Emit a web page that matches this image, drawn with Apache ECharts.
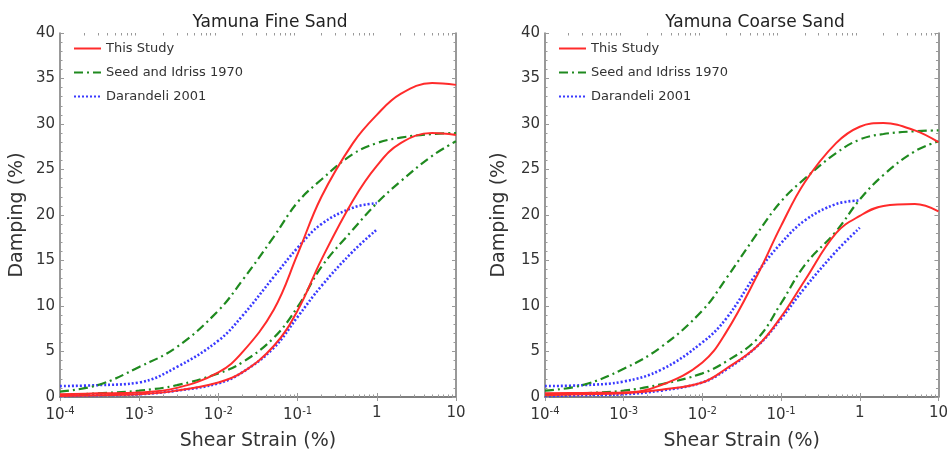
<!DOCTYPE html>
<html><head><meta charset="utf-8">
<script src="https://cdn.jsdelivr.net/npm/echarts@6/dist/echarts.min.js"></script>
<style>html,body{margin:0;padding:0;background:#fff}#c{width:951px;height:456px}</style>
</head><body><div id="c"></div>
<script>
// ---- data ----
var strain = [1e-4, 3e-4, 1e-3, 3e-3, 1e-2, 2e-2, 5e-2, 1e-1, 2e-1, 5e-1, 1, 2, 5, 10];
var strainDar = [1e-4, 3e-4, 1e-3, 3e-3, 1e-2, 2e-2, 5e-2, 1e-1, 2e-1, 5e-1, 1];
var xTickValues = [1e-4, 1e-3, 1e-2, 1e-1, 1, 10];
var yTickValues = [0, 5, 10, 15, 20, 25, 30, 35, 40];

var fineStudyUpper = [0.3, 0.4, 0.5, 1.0, 2.7, 4.9, 9.6, 15.7, 22.0, 27.9, 31.0, 33.3, 34.5, 34.3];
var fineStudyLower = [0.1, 0.2, 0.3, 0.7, 1.6, 2.7, 5.6, 9.5, 15.1, 21.6, 25.4, 27.9, 29.0, 28.8];
var fineSeedUpper  = [0.6, 1.3, 3.3, 5.5, 9.5, 12.8, 17.6, 21.4, 23.9, 26.7, 27.9, 28.5, 28.9, 29.0];
var fineSeedLower  = [0.2, 0.4, 0.7, 1.3, 2.6, 3.8, 6.5, 9.9, 14.3, 18.4, 21.3, 23.7, 26.5, 28.1];
var fineDarUpper   = [1.2, 1.3, 1.6, 3.3, 6.2, 8.9, 13.2, 16.4, 19.0, 20.8, 21.3];
var fineDarLower   = [0.1, 0.2, 0.3, 0.7, 1.5, 2.7, 5.4, 8.8, 12.2, 16.0, 18.4];

var coarseStudyUpper = [0.4, 0.45, 0.5, 1.3, 3.8, 7.1, 13.4, 18.8, 23.6, 27.9, 29.7, 30.1, 29.3, 28.0];
var coarseStudyLower = [0.2, 0.3, 0.4, 0.8, 1.6, 3.1, 5.6, 8.8, 12.8, 18.0, 19.9, 21.0, 21.2, 20.4];
var coarseSeedUpper  = [0.7, 1.3, 3.1, 5.5, 9.5, 13.0, 18.0, 21.5, 24.0, 26.8, 28.3, 28.9, 29.2, 29.3];
var coarseSeedLower  = [0.2, 0.4, 0.7, 1.4, 2.6, 3.9, 6.4, 10.3, 14.5, 18.2, 21.7, 24.4, 27.0, 28.1];
var coarseDarUpper   = [1.2, 1.3, 1.7, 3.0, 6.0, 8.6, 13.7, 16.9, 19.4, 21.2, 21.6];
var coarseDarLower   = [0.1, 0.2, 0.3, 0.7, 1.6, 3.0, 5.6, 8.6, 12.0, 16.0, 18.6];

var titles = ['Yamuna Fine Sand', 'Yamuna Coarse Sand'];
var names = ['This Study', 'Seed and Idriss 1970', 'Darandeli 2001'];

// ---- build ----
function pairs(xs, ys) { return ys.map(function (y, i) { return [xs[i], y]; }); }
var minorX = [];
for (var k = -4; k <= 0; k++) for (var m = 2; m <= 9; m++) minorX.push(+(m * Math.pow(10, k)).toPrecision(3));

var FONT = 'DejaVu Sans';
var AX = '#777';
var TK = '#999';
function fmtX(v) {
  var e = Math.round(Math.log10(v));
  if (e === 0) return '1';
  if (e === 1) return '10';
  return '{b|10}{s|' + e + '}';
}
var grids = [{ left: 60, top: 33, width: 396, height: 365 }, { left: 545, top: 33, width: 396, height: 365 }];
var xAxes = [], yAxes = [], series = [], titleArr = [], legends = [];
var panels = [
  [fineStudyUpper, fineStudyLower, fineSeedUpper, fineSeedLower, fineDarUpper, fineDarLower],
  [coarseStudyUpper, coarseStudyLower, coarseSeedUpper, coarseSeedLower, coarseDarUpper, coarseDarLower]
];
var styles = [
  { color: '#ff2b2b', width: 2, type: 'solid' },
  { color: '#1f8a1f', width: 2.2, type: [9, 4, 2, 4] },
  { color: '#3a3aff', width: 2.6, type: [2, 2] }
];
var titleX = [265, 750];
var yNameGap = [33, 36];

grids.forEach(function (g, gi) {
  var base = xAxes.length;
  var common = { type: 'log', logBase: 10, min: 1e-4, max: 10, gridIndex: gi, splitLine: { show: false } };
  xAxes.push(Object.assign({}, common, {
    position: 'bottom',
    axisLine: { show: true, lineStyle: { color: AX, width: 1.5 } },
    axisTick: { show: true, inside: true, length: 4, lineStyle: { color: TK } },
    axisLabel: {
      margin: 9, formatter: fmtX, color: '#333', fontFamily: FONT, fontSize: 15,
      rich: { b: { fontSize: 15, fontFamily: FONT, color: '#333' }, s: { fontSize: 10, fontFamily: FONT, color: '#333', verticalAlign: 'top', padding: [0, 0, 9, 0] } }
    },
    name: 'Shear Strain (%)', nameLocation: 'middle', nameGap: 35,
    nameTextStyle: { fontFamily: FONT, fontSize: 19, color: '#333' }
  }));
  xAxes.push(Object.assign({}, common, {
    position: 'top',
    axisLine: { show: true, lineStyle: { color: AX, width: 1.5 } },
    axisTick: { show: true, inside: true, length: 4, lineStyle: { color: TK } },
    axisLabel: { show: false }
  }));
  ['bottom', 'top'].forEach(function (p) {
    xAxes.push(Object.assign({}, common, {
      position: p,
      axisLine: { show: false },
      axisTick: { show: true, inside: true, length: 2.5, customValues: minorX, lineStyle: { color: TK } },
      axisLabel: { show: false }
    }));
  });
  var ybase = yAxes.length;
  var ycommon = { type: 'value', min: 0, max: 40, interval: 5, gridIndex: gi, splitLine: { show: false },
    axisLine: { show: true, lineStyle: { color: AX, width: 1.5 } },
    axisTick: { show: true, inside: true, length: 4, lineStyle: { color: TK } },
    minorTick: { show: true, splitNumber: 5, length: 2.5, lineStyle: { color: TK } },
    minorSplitLine: { show: false } };
  yAxes.push(Object.assign({}, ycommon, {
    position: 'left',
    axisLabel: { color: '#333', fontFamily: FONT, fontSize: 15, margin: 5 },
    name: 'Damping (%)', nameLocation: 'middle', nameGap: yNameGap[gi],
    nameTextStyle: { fontFamily: FONT, fontSize: 19, color: '#333' }
  }));
  yAxes.push(Object.assign({}, ycommon, { position: 'right', axisLabel: { show: false } }));

  var d = panels[gi];
  for (var s = 0; s < 6; s++) {
    var st = styles[Math.floor(s / 2)];
    var xs = s >= 4 ? strainDar : strain;
    series.push({
      type: 'line', name: names[Math.floor(s / 2)], xAxisIndex: base, yAxisIndex: ybase,
      data: pairs(xs, d[s]), smooth: 0.4, symbol: 'none', showSymbol: false,
      lineStyle: { color: st.color, width: st.width, type: st.type },
      itemStyle: { color: st.color }, z: 3 + (2 - Math.floor(s / 2)), animation: false
    });
  }
  titleArr.push({ text: titles[gi], left: titleX[gi], top: 9, textAlign: 'center',
    textStyle: { fontFamily: FONT, fontSize: 17, fontWeight: 'normal', color: '#222' } });
  legends.push({
    data: names, orient: 'vertical', left: g.left + 13, top: 42, padding: 0,
    itemWidth: 27, itemHeight: 14, itemGap: 11,
    itemStyle: { opacity: 0 },
    textStyle: { fontFamily: FONT, fontSize: 13, color: '#333' }, selectedMode: false
  });
});

var chart = echarts.init(document.getElementById('c'), null, { renderer: 'canvas' });
chart.setOption({
  animation: false,
  backgroundColor: '#fff',
  title: titleArr,
  legend: legends,
  grid: grids,
  xAxis: xAxes,
  yAxis: yAxes,
  series: series
});
</script></body></html>
